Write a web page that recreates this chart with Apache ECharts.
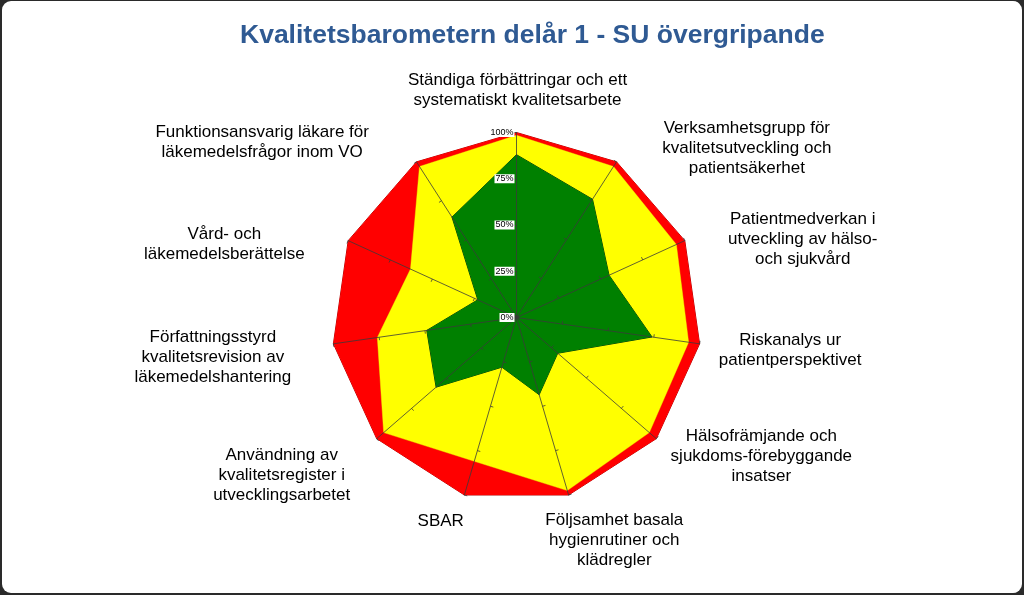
<!DOCTYPE html>
<html>
<head>
<meta charset="utf-8">
<script src="https://cdn.jsdelivr.net/npm/echarts@6/dist/echarts.min.js"></script>
<style>
  html, body { margin: 0; padding: 0; background: #1a1a1a; }
  #frame { position: absolute; left: 0; top: 0; width: 1024px; height: 595px; background: #2a2a2a; }
  #chart { position: absolute; left: 2px; top: 1px; width: 1020px; height: 592px; background: #ffffff; border-radius: 9px; }
</style>
</head>
<body>
<div id="frame"><div id="chart"></div></div>
<script>
// Categories in clockwise order starting at the top
const categories = [
  'Ständiga förbättringar och ett\nsystematiskt kvalitetsarbete',
  'Verksamhetsgrupp för\nkvalitetsutveckling och\npatientsäkerhet',
  'Patientmedverkan i\nutveckling av hälso-\noch sjukvård',
  'Riskanalys ur\npatientperspektivet',
  'Hälsofrämjande och\nsjukdoms-förebyggande\ninsatser',
  'Följsamhet basala\nhygienrutiner och\nklädregler',
  'SBAR',
  'Användning av\nkvalitetsregister i\nutvecklingsarbetet',
  'Författningsstyrd\nkvalitetsrevision av\nläkemedelshantering',
  'Vård- och\nläkemedelsberättelse',
  'Funktionsansvarig läkare för\nläkemedelsfrågor inom VO'
];
const redValues    = [100, 100, 100, 100, 100, 100, 100, 100, 100, 100, 100];
const yellowValues = [98.5, 97, 95, 94, 95, 97.5, 81, 95, 76, 63, 97];
const greenValues  = [88, 76, 55, 74, 29.5, 43.5, 28, 57.5, 49, 23, 64.5];
const tickLabels = ['0%', '25%', '50%', '75%', '100%'];

// label offsets (layout only), [dx, dy] in px
const labelShift = [
  [1, 3], [106, 24], [77, 17], [46, 0], [71, -12], [33, 2],
  [-11, -17], [-61, 7], [-76, 7], [-83, 22], [-130, 18]
];

// ECharts lays out radar indicators counter-clockwise; reorder to clockwise
function cw(arr) { return [arr[0]].concat(arr.slice(1).reverse()); }

const FONT = '"Liberation Sans", Arial, sans-serif';
const rich = {};
categories.forEach(function (c, i) {
  const dx = labelShift[i][0], dy = labelShift[i][1];
  rich['k' + i] = {
    fontSize: 17, lineHeight: 20, fontFamily: FONT, color: '#000', align: 'center',
    padding: [Math.max(2 * dy, 0), Math.max(-2 * dx, 0), Math.max(-2 * dy, 0), Math.max(2 * dx, 0)]
  };
});

const CENTER = [514.5, 316.5];
const RADIUS = 185;

const chart = echarts.init(document.getElementById('chart'));
chart.setOption({
  animation: false,
  title: {
    text: 'Kvalitetsbarometern delår 1 - SU övergripande',
    left: 233, top: 16,
    textStyle: { fontFamily: FONT, fontSize: 26.5, fontWeight: 'bold', color: '#2F5A93' }
  },
  radar: [
    {
      center: CENTER, radius: RADIUS, startAngle: 90, splitNumber: 4,
      indicator: cw(categories).map(function (c) { return { name: c, min: 0, max: 100 }; }),
      axisNameGap: 45,
      axisName: {
        align: 'center', verticalAlign: 'middle',
        formatter: function (name) {
          const i = categories.indexOf(name);
          return '{k' + i + '|' + name + '}';
        },
        rich: rich
      },
      axisLine: { show: true, lineStyle: { color: '#3a3a3a', width: 0.8 } },
      axisTick: { show: true, length: 3, lineStyle: { color: '#3a3a3a', width: 0.8 } },
      axisLabel: { show: false },
      splitLine: { show: false },
      splitArea: { show: false },
      z: 3
    },
    {
      center: CENTER, radius: RADIUS, startAngle: 90, splitNumber: 4,
      indicator: [{ name: '', min: 0, max: 100 }],
      axisName: { show: false },
      axisLine: { show: false },
      axisTick: { show: false },
      splitLine: { show: false },
      splitArea: { show: false },
      axisLabel: {
        show: true, fontSize: 9, fontFamily: FONT, color: '#000',
        backgroundColor: '#ffffff', padding: [0, 1, 0, 1], margin: 2,
        formatter: function (v) { return tickLabels[Math.round(v / 25)]; }
      },
      z: 6
    }
  ],
  series: [{
    type: 'radar',
    radarIndex: 0,
    symbol: 'none',
    z: 2,
    data: [
      { value: cw(redValues), name: 'Röd',
        areaStyle: { color: '#FF0000', opacity: 1 }, lineStyle: { color: '#B00000', width: 1 } },
      { value: cw(yellowValues), name: 'Gul',
        areaStyle: { color: '#FFFF00', opacity: 1 }, lineStyle: { color: '#E0E000', width: 0.5 } },
      { value: cw(greenValues), name: 'Grön',
        areaStyle: { color: '#008000', opacity: 1 }, lineStyle: { color: '#0B3A0B', width: 1 } }
    ]
  }]
});
</script>
</body>
</html>
